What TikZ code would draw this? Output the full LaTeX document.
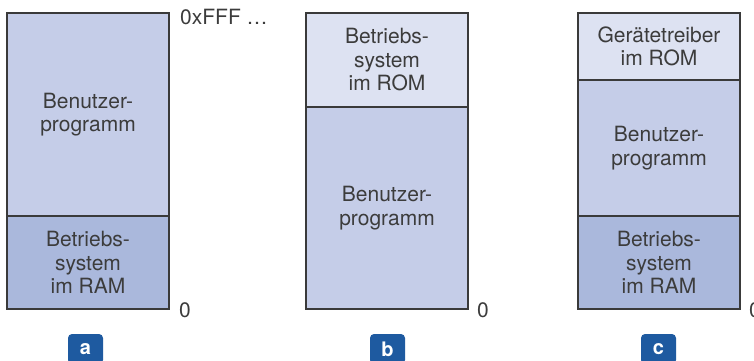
\documentclass[tikz,border=0pt]{standalone}
\usepackage{fontspec}
\setmainfont{TeX Gyre Heros}
\definecolor{memmid}{HTML}{C5CDE8}
\definecolor{memdark}{HTML}{AAB8DC}
\definecolor{memlight}{HTML}{DDE2F2}
\definecolor{edgegray}{HTML}{3A3A3A}
\definecolor{textgray}{HTML}{3C3C3C}
\definecolor{tagblue}{HTML}{1E5AA0}
\tikzset{
  region/.style={draw=edgegray, line width=1.5pt, inner sep=0pt,
    minimum width=162pt, align=center, text=textgray,
    font=\fontsize{21}{23.5}\selectfont},
  addr/.style={anchor=west, inner sep=0pt, text=textgray,
    font=\fontsize{21}{23.5}\selectfont},
  tag/.style={fill=tagblue, rounded corners=4pt, minimum width=35pt,
    minimum height=30pt, inner sep=0pt, text=white,
    font=\fontsize{20}{23.5}\selectfont\bfseries}
}
\begin{document}
\begin{tikzpicture}[x=1pt, y=-1pt]
  \clip (0,0) rectangle (754,360);
  % (a) operating system in RAM below the user program
  \node[region, fill=memmid, minimum height=203pt] (aUser) at (88,114.5)
    {Benutzer-\\programm};
  \node[region, fill=memdark, minimum height=93pt] (aOS) at (88,262.5)
    {Betriebs-\\system\\im RAM};
  \node[addr] (aTop) at (180,17) {0xFFF …};
  \node[addr] (aZero) at (179,310) {0};
  \node[tag] (aTag) at (85.5,349) {a};

  % (b) operating system in ROM above the user program
  \node[region, fill=memlight, minimum height=94pt] (bOS) at (387,60)
    {Betriebs-\\system\\im ROM};
  \node[region, fill=memmid, minimum height=202pt] (bUser) at (387,208)
    {Benutzer-\\programm};
  \node[addr] (bZero) at (477,310) {0};
  \node[tag] (bTag) at (387.5,349) {b};

  % (c) device drivers in ROM, user program, operating system in RAM
  \node[region, fill=memlight, minimum height=67pt] (cDrv) at (659,46.5)
    {Gerätetreiber\\im ROM};
  \node[region, fill=memmid, minimum height=136pt] (cUser) at (659,148)
    {Benutzer-\\programm};
  \node[region, fill=memdark, minimum height=93pt] (cOS) at (659,262.5)
    {Betriebs-\\system\\im RAM};
  \node[addr] (cZero) at (749,310) {0};
  \node[tag] (cTag) at (658.5,349) {c};
\end{tikzpicture}
\end{document}
